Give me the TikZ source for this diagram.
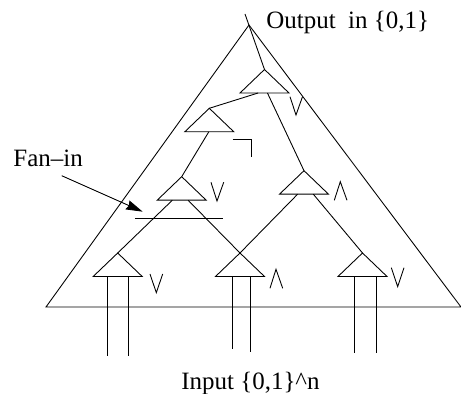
\documentclass[tikz,border=0pt]{standalone}
\usepackage{fontspec}
\setmainfont{Liberation Serif}
\usetikzlibrary{shapes.geometric, calc, arrows.meta}

\begin{document}
\begin{tikzpicture}[x=0.02cm, y=-0.02cm, line width=0.5pt,
    gate/.style={isosceles triangle, isosceles triangle stretches, shape border rotate=90,
      draw, inner sep=0, outer sep=0, minimum width=0.98cm, minimum height=0.47cm, anchor=apex},
    label/.style={inner sep=0, anchor=base west, font=\fontsize{14.2}{16}\selectfont}]
    \useasboundingbox (0,0) rectangle (461,394);
    % big triangle
    \coordinate (top) at (249,25);
    \coordinate (bl) at (46,307);
    \coordinate (br) at (461,307);
    \draw (top)--(bl)--(br)--cycle;
    % gates, from the output down
    \node[gate] (g1) at (264.5,69.5) {};
    \node[gate] (g2) at (209.3,108.3) {};
    \node[gate] (g3) at (181.7,176.7) {};
    \node[gate] (g4) at (304,170.7) {};
    \node[gate] (g5) at (117.7,253) {};
    \node[gate] (g6) at (240,253) {};
    \node[gate] (g7) at (362.5,253) {};
    % wires
    \coordinate (out) at (245,14);
    \draw (out)--(g1.apex);
    \draw ($(g1.left corner)!0.37!(g1.right corner)$)--(g2.apex);
    \draw ($(g1.left corner)!0.56!(g1.right corner)$)--(g4.apex);
    \draw ($(g2.left corner)!0.49!(g2.right corner)$)--(g3.apex);
    \draw ($(g3.left corner)!0.31!(g3.right corner)$)--(g5.apex);
    \draw ($(g3.left corner)!0.63!(g3.right corner)$)--(g6.apex);
    \draw ($(g4.left corner)!0.37!(g4.right corner)$)--(g6.apex);
    \draw ($(g4.left corner)!0.69!(g4.right corner)$)--(g7.apex);
    % inputs
    \coordinate (i1) at (107.3,355.7);
    \coordinate (i2) at (128.7,355.7);
    \coordinate (i3) at (232.7,349.3);
    \coordinate (i4) at (250.7,352.5);
    \coordinate (i5) at (354.7,352.7);
    \coordinate (i6) at (376,352.7);
    \draw (i1 |- g5.left corner)--(i1);
    \draw (i2 |- g5.left corner)--(i2);
    \draw (i3 |- g6.left corner)--(i3);
    \draw (i4 |- g6.left corner)--(i4);
    \draw (i5 |- g7.left corner)--(i5);
    \draw (i6 |- g7.left corner)--(i6);
    % gate symbols
    \draw (290,96.7)--(296,115)--(302.5,96.7);
    \draw (232.7,139)--(251,139)--(251,157);
    \draw (211,182.3)--(217,201)--(223.7,182.3);
    \draw (334.3,200.3)--(340.3,181.7)--(347,200.3);
    \draw (150,274)--(156.3,292.7)--(162.7,274);
    \draw (270,288.3)--(276,269.3)--(282.7,288.3);
    \draw (391.3,267.7)--(397.7,286.7)--(404,267.7);
    % fan-in
    \coordinate (fl) at (135,218.3);
    \coordinate (fr) at (223.3,218.3);
    \draw (fl)--(fr);
    \node[label] (fan) at (13,166.7) {Fan--in};
    \coordinate (as) at (61.7,175.7);
    \coordinate (ae) at (142.7,211.7);
    \draw[-{Stealth[length=9.5pt,width=5.5pt,inset=1pt]}] (as)--(ae);
    % texts
    \node[label] (output) at (266,29) {Output\ \ in \{0,1\}};
    \node[label] (input) at (181,389.5) {Input \{0,1\}\textasciicircum n};
  \end{tikzpicture}
\end{document}
